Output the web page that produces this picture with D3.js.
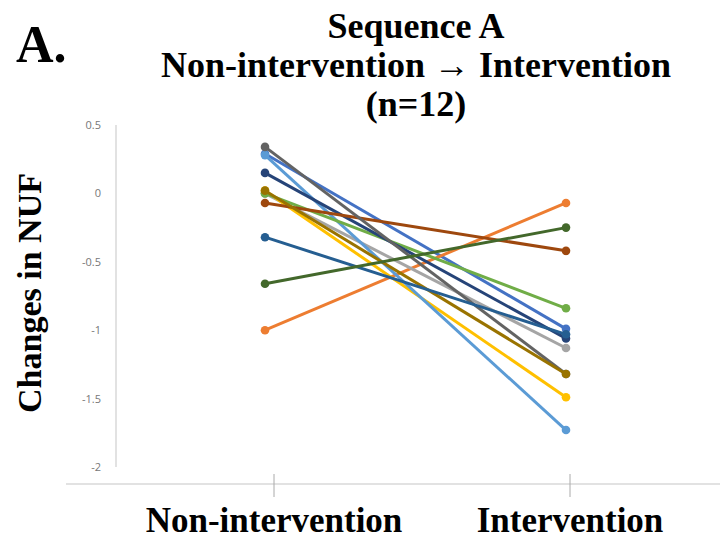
<!DOCTYPE html>
<html>
  <head>
    <script src="https://d3js.org/d3.v7.min.js"></script>
    <style>
      body { margin: 0; background: #fff; }
      svg { display: block; }
    </style>
  </head>
  <body>
    <svg width="720" height="542"></svg>
    <script>
      // data
      const phases = ["Non-intervention", "Intervention"];
      const before = [0.29, -1.0, 0.0, 0.02, 0.28, 0.0, 0.15, -0.07, 0.34, 0.02, -0.32, -0.66];
      const after = [-0.99, -0.07, -1.13, -1.49, -1.73, -0.84, -1.06, -0.42, -1.32, -1.32, -1.03, -0.25];
      const colors = ["#4472C4", "#ED7D31", "#A5A5A5", "#FFC000", "#5B9BD5", "#70AD47",
                      "#264478", "#9E480E", "#636363", "#997300", "#255E91", "#43682B"];
      const yTicks = [0.5, 0, -0.5, -1, -1.5, -2];

      const svg = d3.select("svg");
      const serif = "'Liberation Serif', 'Times New Roman', serif";

      const y = d3.scaleLinear().domain([-2, 0.5]).range([467, 125]);
      const x = d3.scalePoint().domain(phases).range([265, 566]);
      const xTick = d3.scalePoint().domain(phases).range([274, 570]);

      // y axis
      svg.append("line")
        .attr("x1", 116).attr("x2", 116)
        .attr("y1", y(0.5)).attr("y2", y(-2))
        .attr("stroke", "#d9d9d9").attr("stroke-width", 1.5);

      svg.selectAll(".ytick")
        .data(yTicks)
        .enter().append("text")
        .attr("x", 101)
        .attr("y", d => y(d) + 4)
        .attr("text-anchor", "end")
        .attr("font-family", "'Open Sans', sans-serif")
        .attr("font-size", 11)
        .attr("fill", "#777")
        .text(d => d);

      // x axis
      svg.append("line")
        .attr("x1", 66).attr("x2", 720)
        .attr("y1", 484).attr("y2", 484)
        .attr("stroke", "#d9d9d9").attr("stroke-width", 1.5);

      svg.selectAll(".xtick")
        .data(phases)
        .enter().append("line")
        .attr("x1", d => xTick(d)).attr("x2", d => xTick(d))
        .attr("y1", 474).attr("y2", 497)
        .attr("stroke", "#aaa").attr("stroke-width", 1);

      svg.selectAll(".xlabel")
        .data(phases)
        .enter().append("text")
        .attr("x", d => xTick(d))
        .attr("y", 532)
        .attr("text-anchor", "middle")
        .attr("font-family", serif)
        .attr("font-weight", "bold")
        .attr("font-size", 35)
        .text(d => d);

      // series
      const series = colors.map((c, i) => ({ color: c, values: [before[i], after[i]] }));
      const line = d3.line().x((d, i) => x(phases[i])).y(d => y(d));

      const g = svg.selectAll(".series")
        .data(series)
        .enter().append("g");

      g.append("path")
        .attr("d", d => line(d.values))
        .attr("fill", "none")
        .attr("stroke", d => d.color)
        .attr("stroke-width", 3);

      g.selectAll("circle")
        .data(d => d.values.map((v, i) => ({ v, i, color: d.color })))
        .enter().append("circle")
        .attr("cx", d => x(phases[d.i]))
        .attr("cy", d => y(d.v))
        .attr("r", 4.3)
        .attr("fill", d => d.color);

      // titles
      const title = ["Sequence A", "Non-intervention \u2192 Intervention", "(n=12)"];
      svg.selectAll(".title")
        .data(title)
        .enter().append("text")
        .attr("x", 416)
        .attr("y", (d, i) => 38 + i * 39)
        .attr("text-anchor", "middle")
        .attr("font-family", serif)
        .attr("font-weight", "bold")
        .attr("font-size", 36)
        .text(d => d);

      svg.append("text")
        .attr("x", 16).attr("y", 62)
        .attr("font-family", serif)
        .attr("font-weight", "bold")
        .attr("font-size", 52)
        .text("A.");

      svg.append("text")
        .attr("transform", "translate(41,293) rotate(-90)")
        .attr("text-anchor", "middle")
        .attr("font-family", serif)
        .attr("font-weight", "bold")
        .attr("font-size", 34)
        .text("Changes in NUF");
    </script>
  </body>
</html>
